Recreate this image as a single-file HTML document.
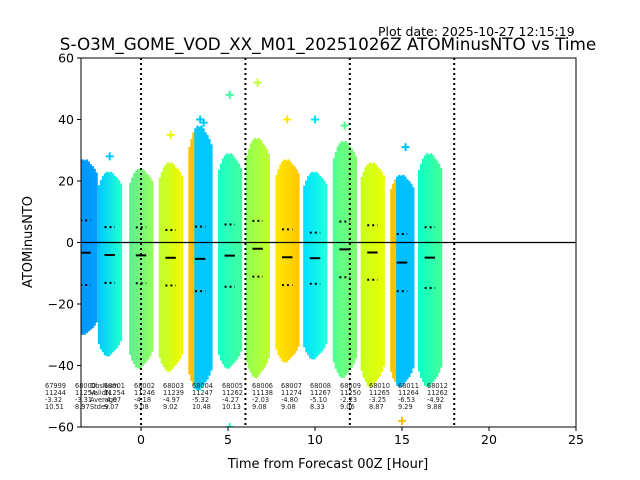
<!DOCTYPE html>
<html><head><meta charset="utf-8"><style>
body{margin:0;background:#fff}
svg{display:block;font-family:"DejaVu Sans","Liberation Sans",sans-serif}
</style></head><body>
<svg id="chart" width="640" height="480" viewBox="0 0 640 480" xmlns="http://www.w3.org/2000/svg">
<rect width="640" height="480" fill="#fff"/>
<text x="378" y="36" font-size="12.5">Plot date: 2025-10-27 12:15:19</text>
<text x="328" y="50" font-size="16.8" text-anchor="middle">S-O3M_GOME_VOD_XX_M01_20251026Z ATOMinusNTO vs Time</text>
<defs><clipPath id="pc"><rect x="81" y="58" width="495" height="369"/></clipPath></defs>
<g id="marks" clip-path="url(#pc)"></g>
<g id="axes"></g>
<g id="labels"></g>
<text x="328" y="468" font-size="13" text-anchor="middle">Time from Forecast 00Z [Hour]</text>
<text transform="translate(32,242) rotate(-90)" font-size="13" text-anchor="middle">ATOMinusNTO</text>
</svg>
<script>
const ids=["67999","68001","68002","68003","68004","68005","68006","68007","68008","68009","68010","68011","68012"];
const centers=[-3.2,-1.8,0,1.7,3.4,5.1,6.7,8.4,10.0,11.7,13.3,15.0,16.6];
const tops=[27,23,24,26,38,29,34,27,23,33,26,22,29];
const bottoms=[-30,-37,-41,-42,-48,-41,-44,-39,-38,-44,-47,-47,-47];
const means=[-3.32,-4.07,-4.18,-4.97,-5.32,-4.27,-2.03,-4.80,-5.10,-2.23,-3.25,-6.53,-4.92];
const stds=[10.51,9.07,9.08,9.02,10.48,10.13,9.08,9.08,8.33,9.06,8.87,9.29,9.88];
const leftColors=["#0090ff","#00c8ff","#60f090","#c0ff30","#ffc000","#20ffc8","#90ff50","#ffe800","#00e0ff","#50ff90","#c8ff20","#ffc000","#10ffc8"];
const rightColors=["#00a0ff","#20ffd0","#90ff60","#f0f800","#00c8ff","#40ffa0","#c0ff30","#ffc800","#20ffe0","#80ff70","#e8ff00","#00c0ff","#40ff9a"];
const outX=[6.7,5.1,3.4,3.6,8.4,10.0,11.7,15.2,1.7,-1.8,15.0,5.1];
const outY=[52,48,40,39,40,40,38,31,35,28,-58,-60];
const outC=["#c0ff30","#40ffa0","#00c8ff","#00c8ff","#ffe800","#00e0ff","#50ff90","#00c0ff","#f0f800","#00c8ff","#ffc000","#20ffc8"];
const labIds=["67999","68000","ObsNum","68001","68002","68003","68004","68005","68006","68007","68008","68009","68010","68011","68012"];
const labX=[45,75,90,104,134,163,192,222,252,281,310,340,369,398,427];
const labN=["11244","11254","ValidN","11254","11246","11239","11247","11262","11138","11274","11267","11250","11265","11264","11262"];
const labA=["-3.32","-3.31","Average","-4.07","-4.18","-4.97","-5.32","-4.27","-2.03","-4.80","-5.10","-2.23","-3.25","-6.53","-4.92"];
const labS=["10.51","8.97","Stdev","9.07","9.08","9.02","10.48","10.13","9.08","9.08","8.33","9.06","8.87","9.29","9.88"];
const xTicks=[0,5,10,15,20,25];
const yTicks=[60,40,20,0,-20,-40,-60];
const vLines=[0,6,12,18];

const X0=81,X1=576,Y0=58,Y1=427,xmin=-3.45,xmax=25,ymin=-60,ymax=60;
const sx=v=>X0+(v-xmin)/(xmax-xmin)*(X1-X0);
const sy=v=>Y1-(v-ymin)/(ymax-ymin)*(Y1-Y0);
const NS="http://www.w3.org/2000/svg";
function mk(tag,attrs,parent){const e=document.createElementNS(NS,tag);for(const k in attrs)e.setAttribute(k,attrs[k]);parent.appendChild(e);return e;}
const marks=document.getElementById('marks'),axes=document.getElementById('axes'),labels=document.getElementById('labels');
const profT=[0.84,0.9,0.95,0.98,1,0.99,1,0.98,0.95,0.93,0.9,0.86];
const profB=[0.88,0.93,0.96,0.99,1,1,0.98,0.96,0.94,0.92,0.89,0.85];
const halfW=0.68;
function mix(a,b,t){const p=s=>[1,3,5].map(i=>parseInt(s.substr(i,2),16));const A=p(a),B=p(b);return 'rgb('+A.map((v,i)=>Math.round(v+(B[i]-v)*t)).join(',')+')';}
for(let g=0;g<ids.length;g++){
  const grp=mk('g',{},marks);
  
  
  const n=profT.length,w=2*halfW/n;
  const twoTone=(g===4||g===11);
  for(let i=0;i<n;i++){
    const x=centers[g]-halfW+i*w;
    const col=twoTone?(i<3?leftColors[g]:rightColors[g]):mix(leftColors[g],rightColors[g],i/(n-1));
    const t=means[g]+(tops[g]-means[g])*profT[i];
    const b=means[g]+(bottoms[g]-means[g])*profB[i];
    const r=mk('rect',{x:sx(x),y:sy(t),width:sx(x+w)-sx(x)+0.6,height:sy(b)-sy(t),fill:col},grp);
    
    
  }
  const m=mk('line',{x1:sx(centers[g]-0.3),x2:sx(centers[g]+0.3),y1:sy(means[g]),y2:sy(means[g]),stroke:'#000','stroke-width':2},grp);
  
  
  [means[g]+stds[g],means[g]-stds[g]].forEach(v=>{
    const d=mk('line',{x1:sx(centers[g]-0.3),x2:sx(centers[g]+0.3),y1:sy(v),y2:sy(v),stroke:'#000','stroke-width':2,'stroke-dasharray':'2,3'},grp);
    
    
  });
}
for(let i=0;i<outX.length;i++){
  const p=mk('path',{d:`M${sx(outX[i])-4},${sy(outY[i])}h8M${sx(outX[i])},${sy(outY[i])-4}v8`,stroke:outC[i],'stroke-width':2},marks);
  
  
}
vLines.forEach(v=>{
  const l=mk('line',{x1:sx(v),x2:sx(v),y1:Y0,y2:Y1,stroke:'#000','stroke-width':2,'stroke-dasharray':'2,3'},marks);
  
  
});
const z=mk('line',{x1:X0,x2:X1,y1:sy(0),y2:sy(0),stroke:'#000','stroke-width':1.2},marks);


const fr=mk('rect',{x:X0,y:Y0,width:X1-X0,height:Y1-Y0,fill:'none',stroke:'#000','stroke-width':1},axes);


xTicks.forEach(v=>{
  mk('line',{x1:sx(v),x2:sx(v),y1:Y1,y2:Y1+4,stroke:'#000'},axes);
  const t=mk('text',{x:sx(v),y:Y1+17,'font-size':12.5,'text-anchor':'middle'},axes);
  t.textContent=v;
  
  
});
yTicks.forEach(v=>{
  mk('line',{x1:X0-4,x2:X0,y1:sy(v),y2:sy(v),stroke:'#000'},axes);
  const t=mk('text',{x:X0-7,y:sy(v)+4.5,'font-size':12.5,'text-anchor':'end'},axes);
  t.textContent=(v<0?'\u2212'+(-v):v);
  
  
});
const rows=[labIds,labN,labA,labS],rowY=[388,395,402,409];
for(let i=0;i<labIds.length;i++){
  for(let r=0;r<4;r++){
    const t=mk('text',{x:labX[i],y:rowY[r],'font-size':6.6,fill:'#222'},labels);
    t.textContent=rows[r][i];
    
    
  }
}
</script>
</body></html>
